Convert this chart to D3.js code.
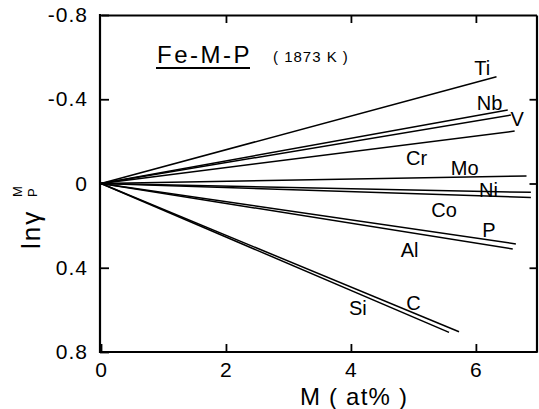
<!DOCTYPE html>
<html>
<head>
<meta charset="utf-8">
<script src="https://cdn.jsdelivr.net/npm/d3@7"></script>
<style>
  html, body { margin: 0; padding: 0; background: #fff; }
  svg { display: block; font-family: "Liberation Sans", Arial, sans-serif; }
</style>
</head>
<body>
<div id="chart"></div>
<script>
// elements M and where each straight line from the origin ends (M in at%, ln gamma)
const elements = ["Ti", "Nb", "V", "Cr", "Mo", "Ni", "Co", "P", "Al", "C", "Si"];
const endM     = [6.33, 6.51, 6.56, 6.62, 6.81, 6.88, 6.88, 6.64, 6.59, 5.73, 5.57];
const endLnG   = [-0.507, -0.349, -0.325, -0.249, -0.036, 0.042, 0.066, 0.287, 0.311, 0.704, 0.707];

// label anchors (data units)
const labelM   = [6.10, 6.22, 6.66, 5.05, 5.82, 6.20, 5.49, 6.21, 4.94, 5.00, 4.11];
const labelLnG = [-0.549, -0.381, -0.305, -0.121, -0.075, 0.028, 0.126, 0.221, 0.316, 0.566, 0.591];

const xTicks = [0, 2, 4, 6];
const yTicks = [-0.8, -0.4, 0, 0.4, 0.8];

const W = 539, H = 409;
const margin = { left: 100, right: 2.5, top: 15, bottom: 57 };

const x = d3.scaleLinear().domain([0, 6.97]).range([margin.left + 1, W - margin.right]);
const y = d3.scaleLinear().domain([-0.8, 0.8]).range([margin.top, H - margin.bottom]);

const svg = d3.select("#chart").append("svg")
  .attr("width", W)
  .attr("height", H)
  .attr("viewBox", [0, 0, W, H]);

// axes, ticks pointing inward
const gBottom = svg.append("g")
  .attr("transform", `translate(0,${y(0.8)})`)
  .call(d3.axisBottom(x).tickValues(xTicks).tickSize(-8).tickSizeOuter(0).tickPadding(10)
    .tickFormat(d => String(d)));

const gTop = svg.append("g")
  .attr("transform", `translate(0,${y(-0.8)})`)
  .call(d3.axisTop(x).tickValues([2, 4, 6]).tickSize(-8).tickSizeOuter(0).tickFormat(""));

const gLeft = svg.append("g")
  .attr("transform", `translate(${margin.left},0)`)
  .call(d3.axisLeft(y).tickValues(yTicks).tickSize(-9).tickSizeOuter(0).tickPadding(12)
    .tickFormat(d => String(d)));

const gRight = svg.append("g")
  .attr("transform", `translate(${W - margin.right},0)`)
  .call(d3.axisRight(y).tickValues([-0.4, 0, 0.4]).tickSize(-7).tickSizeOuter(0).tickFormat(""));

[gBottom, gTop, gLeft, gRight].forEach(g => {
  g.select(".domain").attr("stroke", "#000").attr("stroke-width", 2.2);
  g.selectAll(".tick line").attr("stroke", "#000").attr("stroke-width", 1.8);
  g.selectAll(".tick text")
    .attr("fill", "#000")
    .style("font-size", "21px")
    .style("letter-spacing", "1px");
});

// extend left/bottom domain so the frame corners close
gLeft.select(".domain").attr("d", `M0,${margin.top - 1}V${y(0.8) + 1}`);
gBottom.select(".domain").attr("d", `M${margin.left - 1},0H${W - margin.right + 1}`);

// lines from origin
const line = d3.line().x(d => x(d[0])).y(d => y(d[1]));

svg.append("g")
  .selectAll("path")
  .data(elements.map((e, i) => [[0, 0], [endM[i], endLnG[i]]]))
  .join("path")
  .attr("d", line)
  .attr("fill", "none")
  .attr("stroke", "#000")
  .attr("stroke-width", 1.5);

// element labels
svg.append("g")
  .selectAll("text")
  .data(elements)
  .join("text")
  .attr("x", (d, i) => x(labelM[i]))
  .attr("y", (d, i) => y(labelLnG[i]))
  .attr("dy", "0.36em")
  .attr("text-anchor", "middle")
  .style("font-size", "20px")
  .text(d => d);

// title
const title = svg.append("text")
  .attr("x", 157)
  .attr("y", 63)
  .style("font-size", "24px")
  .style("letter-spacing", "2.5px")
  .text("Fe-M-P");

const tw = title.node().getComputedTextLength();
svg.append("line")
  .attr("x1", 156).attr("x2", 157 + tw - 2)
  .attr("y1", 68).attr("y2", 68)
  .attr("stroke", "#000").attr("stroke-width", 1.8);

svg.append("text")
  .attr("x", 273)
  .attr("y", 62)
  .style("font-size", "15px")
  .style("letter-spacing", "1px")
  .text("( 1873 K )");

// x axis title
svg.append("text")
  .attr("x", 300)
  .attr("y", 405)
  .style("font-size", "24px")
  .style("letter-spacing", "1.2px")
  .text("M ( at% )");

// y axis title: ln γ with superscript M and subscript P
const yl = svg.append("g").attr("transform", "translate(40,249) rotate(-90)");
yl.append("text")
  .attr("x", 0).attr("y", 0)
  .style("font-size", "26px")
  .style("letter-spacing", "2px")
  .text("lnγ");
yl.append("text")
  .attr("x", 52).attr("y", -18.5)
  .style("font-size", "13px")
  .text("M");
yl.append("text")
  .attr("x", 52).attr("y", -3.5)
  .style("font-size", "13px")
  .text("P");
</script>
</body>
</html>
